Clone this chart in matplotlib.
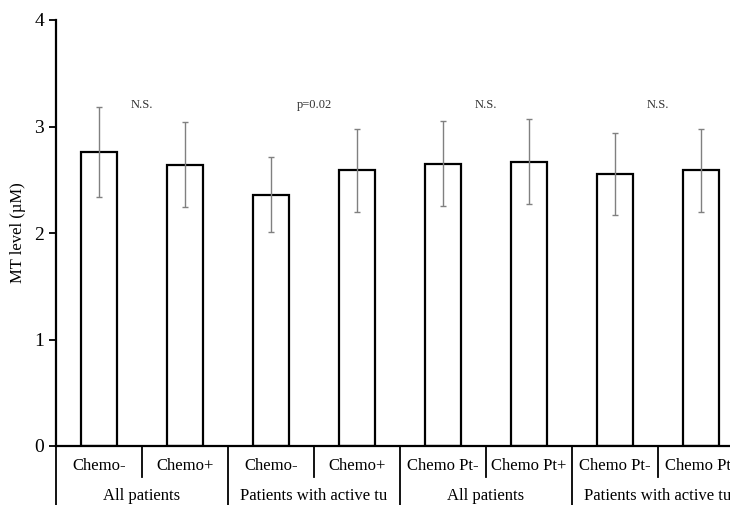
import matplotlib.pyplot as plt

plt.rcParams['font.family'] = ['Liberation Serif', 'DejaVu Serif']

# data
categories = ["Chemo-", "Chemo+", "Chemo-", "Chemo+",
              "Chemo Pt-", "Chemo Pt+", "Chemo Pt-", "Chemo Pt-"]
groups = ["All patients", "Patients with active tu",
          "All patients", "Patients with active tu"]
mt_level = [2.76, 2.64, 2.36, 2.59, 2.65, 2.67, 2.55, 2.59]
sd = [0.42, 0.40, 0.355, 0.39, 0.40, 0.40, 0.385, 0.39]
notes = ["N.S.", "p=0.02", "N.S.", "N.S."]

fig = plt.figure(figsize=(7.3, 5.05), dpi=100)
ax = fig.add_axes([56/730, 1-446/505, 688/730, 426/505])

x = list(range(len(mt_level)))
ax.bar(x, mt_level, width=0.41, color="white", edgecolor="black", linewidth=1.6, zorder=2)
ax.errorbar(x, mt_level, yerr=sd, fmt="none", ecolor="#808080", elinewidth=1,
            capsize=2.5, capthick=1, zorder=3)

ax.set_xlim(-0.5, 7.5)
ax.set_ylim(0, 4)
ax.set_yticks([0, 1, 2, 3, 4])
ax.tick_params(axis="y", labelsize=14, length=5, width=1.3, direction="out")
ax.set_xticks([])
ax.set_ylabel("MT level (\u00b5M)", fontsize=12, labelpad=6)

for s in ["top", "right"]:
    ax.spines[s].set_visible(False)
ax.spines["left"].set_linewidth(1.6)
ax.spines["bottom"].set_linewidth(1.6)

tr = ax.get_xaxis_transform()
# category labels and short separators
for i, c in enumerate(categories):
    ax.text(i, -0.047, c, transform=tr, ha="center", va="center", fontsize=12)
for b in [0.5, 2.5, 4.5, 6.5]:
    ax.plot([b, b], [0, -0.073], transform=tr, color="black", lw=1.3, clip_on=False)
# group labels and long separators
for g, name in enumerate(groups):
    ax.text(2*g + 0.5, -0.117, name, transform=tr, ha="center", va="center", fontsize=12)
for b in [-0.5, 1.5, 3.5, 5.5]:
    ax.plot([b, b], [0, -0.16], transform=tr, color="black", lw=1.3, clip_on=False)

# significance notes
for g, t in enumerate(notes):
    ax.text(2*g + 0.5, 3.2, t, ha="center", va="center", fontsize=9, color="#333333")

fig.savefig("out.png", dpi=100)
